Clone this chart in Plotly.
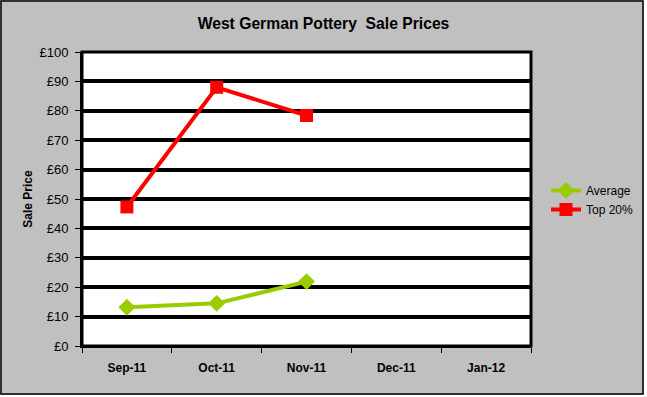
import plotly.graph_objects as go

categories = ["Sep-11", "Oct-11", "Nov-11", "Dec-11", "Jan-12"]
avg_months = ["Sep-11", "Oct-11", "Nov-11"]
average = [13.2, 14.5, 21.9]
top20 = [47.3, 88.0, 78.4]
y_ticks = [0, 10, 20, 30, 40, 50, 60, 70, 80, 90, 100]

FONT = "Liberation Sans, Arial, sans-serif"
L, R, T, B = 82, 116, 52, 51
W, H = 647, 397
pw, ph = W - L - R, H - T - B

def px(x):
    return (x - L) / pw

def py(y):
    return (H - B - y) / ph

fig = go.Figure()
fig.add_trace(go.Scatter(
    x=avg_months, y=average, name="Average", mode="lines+markers",
    line=dict(color="#99CC00", width=4),
    marker=dict(symbol="diamond", size=13, color="#99CC00"),
))
fig.add_trace(go.Scatter(
    x=avg_months, y=top20, name="Top 20%", mode="lines+markers",
    line=dict(color="#FF0000", width=4),
    marker=dict(symbol="square", size=13, color="#FF0000"),
))

fig.update_layout(
    template="none",
    width=W, height=H,
    margin=dict(l=L, r=R, t=T, b=B, autoexpand=False),
    paper_bgcolor="#C0C0C0",
    plot_bgcolor="white",
    font=dict(family=FONT, size=12, color="black"),
    title=dict(text="<b>West German Pottery  Sale Prices</b>", x=0.5, xanchor="center",
               y=1 - 24 / H, yanchor="middle", font=dict(size=15.7, family=FONT),
               automargin=False),
    showlegend=True,
    legend=dict(x=px(546), y=py(176), xanchor="left", yanchor="top",
                bgcolor="rgba(0,0,0,0)", font=dict(size=12, family=FONT),
                itemwidth=30, tracegroupgap=4),
    shapes=[
        dict(type="rect", xref="paper", yref="paper", layer="above",
             x0=px(644), x1=px(660), y0=py(420), y1=py(-10),
             fillcolor="white", line=dict(width=0)),
        dict(type="rect", xref="paper", yref="paper", layer="above",
             x0=px(-10), x1=px(660), y0=py(420), y1=py(395),
             fillcolor="white", line=dict(width=0)),
        dict(type="rect", xref="paper", yref="paper", layer="above",
             x0=px(1), x1=px(643), y0=py(394), y1=py(1),
             line=dict(color="black", width=1.5)),
        dict(type="rect", xref="paper", yref="paper", layer="above",
             x0=0, x1=1, y0=0, y1=1,
             line=dict(color="black", width=3)),
    ],
)

fig.update_xaxes(
    type="category", categoryorder="array", categoryarray=categories,
    range=[-0.5, 4.5], tickvals=categories,
    ticktext=[f"<b>{c}</b>" for c in categories],
    showline=True, linecolor="black", linewidth=2, automargin=False,
    ticks="outside", tickson="boundaries", ticklen=5, tickcolor="black", tickwidth=1,
    showgrid=False, zeroline=False,
    tickfont=dict(size=12, family=FONT),
    ticklabelstandoff=10,
)

fig.update_yaxes(
    range=[0, 100], tickvals=y_ticks, ticktext=[f"£{v}" for v in y_ticks],
    showline=True, linecolor="black", linewidth=2, automargin=False,
    ticks="outside", ticklen=5, tickcolor="black", tickwidth=1,
    showgrid=True, gridcolor="black", gridwidth=3.5, zeroline=False,
    tickfont=dict(size=13, family=FONT),
    ticklabelstandoff=4,
    title=dict(text="<b>Sale Price</b>", font=dict(size=12, family=FONT), standoff=4),
)

fig.write_html("out.html",
               config={"displayModeBar": False},
               post_script="document.body.style.margin='0';document.body.style.overflow='hidden';")
